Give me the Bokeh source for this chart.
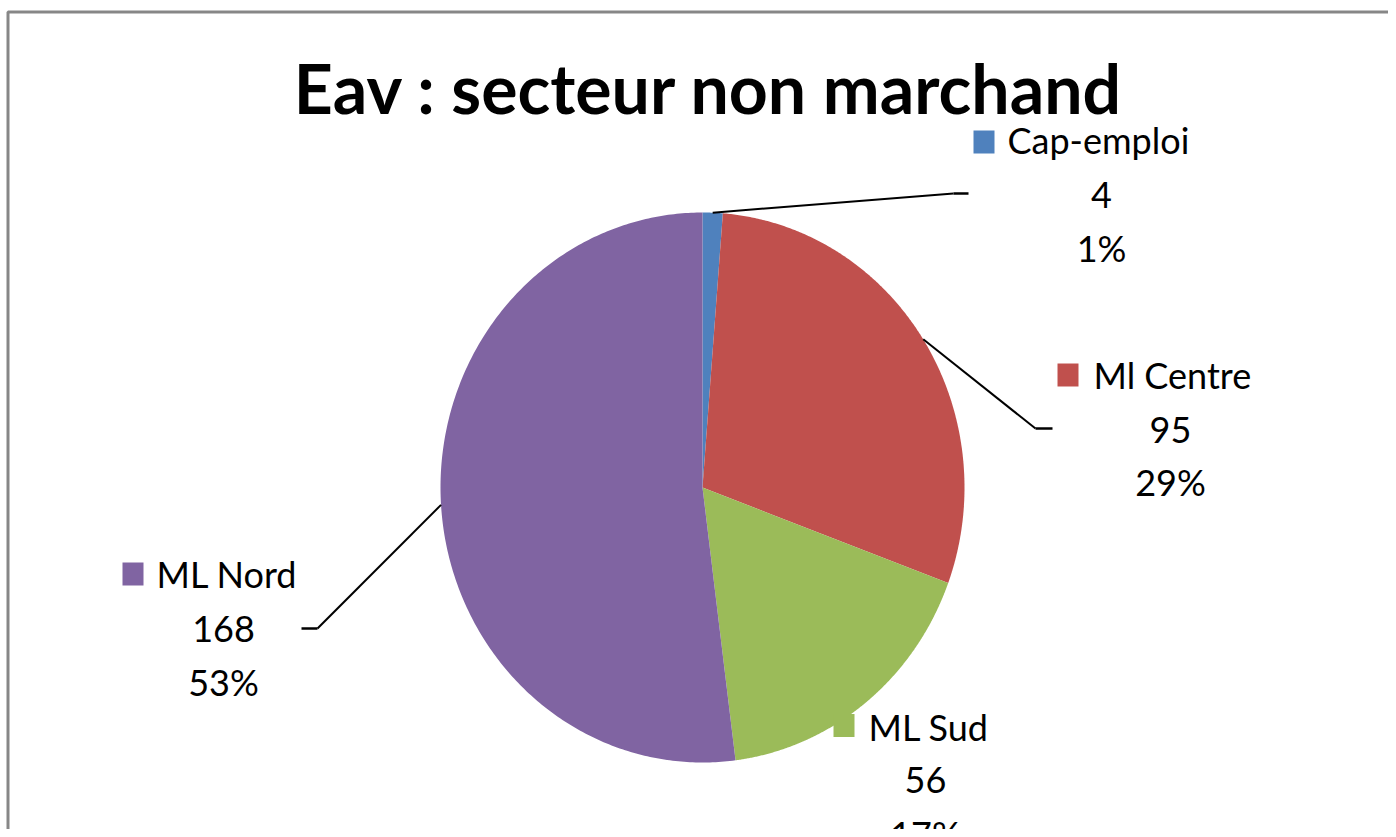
import numpy as np
from bokeh.plotting import figure
from bokeh.models import Range1d
from bokeh.core.properties import value
from bokeh.embed import file_html
from bokeh.resources import INLINE

# ---- data ----
categories = ["Cap-emploi", "Ml Centre", "ML Sud", "ML Nord"]
counts = [4, 95, 56, 168]
pct_labels = ["1%", "29%", "17%", "53%"]
colors = ["#4F81BD", "#C0504D", "#9BBB59", "#8064A2"]
title = "Eav : secteur non marchand"

# ---- layout (pixel coordinates, y down) ----
W, H = 1388, 829
CX, CY, RX, RY = 702, 487, 262, 275
FONT = "Lato"
LBL_SIZE = 36
TTL_SIZE = 68
BASE_SHIFT = 0.41  # baseline correction (fraction of font size)

label_layout = {
    "Cap-emploi": dict(sq=(983.5, 141.5), nx=1007, ny=154, vx=1101, vy=209, py=262,
                       elbow=(953, 193), end=(968, 193)),
    "Ml Centre": dict(sq=(1067.5, 374.5), nx=1093, ny=389, vx=1170, vy=444, py=496,
                      elbow=(1035, 428), end=(1052, 428)),
    "ML Sud": dict(sq=(843.5, 725), nx=868, ny=741, vx=925, vy=794, py=848,
                   elbow=None, end=None),
    "ML Nord": dict(sq=(132.5, 573.5), nx=156, ny=588, vx=223, vy=643, py=696,
                    elbow=(317, 628), end=(301, 628)),
}

p = figure(width=W, height=H, output_backend="svg", toolbar_location=None,
           x_range=Range1d(0, W), y_range=Range1d(H, 0), min_border=0,
           background_fill_color="white", border_fill_color="white")
p.axis.visible = False
p.grid.visible = False
p.outline_line_color = None

# chart border (left and top visible)
p.line(x=[7.5, 7.5, W + 10], y=[H + 10, 11.5, 11.5], line_color="#878787", line_width=3)

# pie slices
total = float(sum(counts))
cum = np.concatenate([[0], np.cumsum(counts)]) / total * 2 * np.pi
xs, ys = [], []
for i in range(len(counts)):
    t = np.linspace(cum[i], cum[i + 1], 300)
    xs.append(np.concatenate([[CX], CX + RX * np.sin(t), [CX]]).tolist())
    ys.append(np.concatenate([[CY], CY - RY * np.cos(t), [CY]]).tolist())
p.patches(xs=xs, ys=ys, fill_color=colors, line_color=None)

# leader lines
for i, c in enumerate(categories):
    L = label_layout[c]
    if L["elbow"] is None:
        continue
    mid = (cum[i] + cum[i + 1]) / 2
    sx, sy = CX + RX * np.sin(mid), CY - RY * np.cos(mid)
    p.line(x=[sx, L["elbow"][0]], y=[sy, L["elbow"][1]], line_color="black", line_width=2)
    p.line(x=[L["elbow"][0], L["end"][0]], y=[L["elbow"][1], L["end"][1]],
           line_color="black", line_width=2.5)

# labels
sh = BASE_SHIFT * LBL_SIZE
for i, c in enumerate(categories):
    L = label_layout[c]
    p.rect(x=[L["sq"][0]], y=[L["sq"][1]], width=21, height=23,
           fill_color=colors[i], line_color=None)
    p.text(x=[L["nx"]], y=[L["ny"] - sh], text=[c], text_font=value(FONT),
           text_font_size=f"{LBL_SIZE}px", text_color="black", text_baseline="alphabetic",
           text_align="left")
    p.text(x=[L["vx"], L["vx"]], y=[L["vy"] - sh, L["py"] - sh],
           text=[str(counts[i]), pct_labels[i]],
           text_font=value(FONT), text_font_size=f"{LBL_SIZE}px", text_color="black",
           text_baseline="alphabetic", text_align="center")

# title
p.text(x=[708.5], y=[115 - BASE_SHIFT * TTL_SIZE], text=[title], text_font=value(FONT),
       text_font_size=f"{TTL_SIZE}px", text_font_style="bold", text_color="black",
       text_baseline="alphabetic", text_align="center")

open("out.html", "w").write(file_html(p, INLINE))
